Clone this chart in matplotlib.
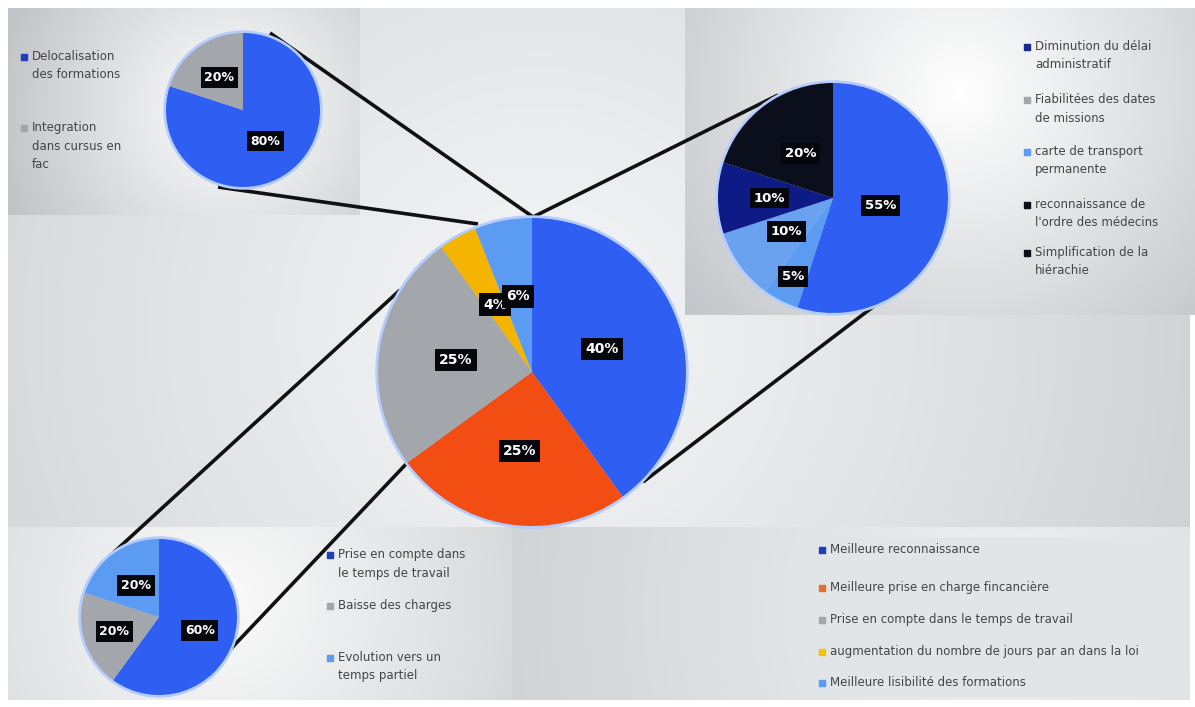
import numpy as np
import matplotlib.pyplot as plt
from matplotlib.patches import Circle

# ---- data -------------------------------------------------------------
main_vals = [40, 25, 25, 4, 6]
main_colors = ['#2f5ef2', '#f24d12', '#a3a6aa', '#f5b400', '#5b9cf2']
main_labels = ['Meilleure reconnaissance',
               'Meilleure prise en charge fincancière',
               'Prise en compte dans le temps de travail',
               'augmentation du nombre de jours par an dans la loi',
               'Meilleure lisibilité des formations']

tl_vals = [80, 20]
tl_colors = ['#2f5ef2', '#a3a6aa']
tl_labels = ['Delocalisation\ndes formations', 'Integration\ndans cursus en\nfac']

tr_vals = [55, 5, 10, 10, 20]
tr_colors = ['#2f5ef2', '#5b9cf2', '#6aa2f0', '#0e1a86', '#0b0f1c']
tr_labels = ['Diminution du délai\nadministratif',
             'Fiabilitées des dates\nde missions',
             'carte de transport\npermanente',
             'reconnaissance de\nl\'ordre des médecins',
             'Simplification de la\nhiérachie']
tr_legend_colors = ['#1a2a8a', '#a3a6aa', '#5b9cf2', '#0b0f1c', '#0b0f1c']

bl_vals = [60, 20, 20]
bl_colors = ['#2f5ef2', '#a3a6aa', '#5b9cf2']
bl_labels = ['Prise en compte dans\nle temps de travail',
             'Baisse des charges',
             'Evolution vers un\ntemps partiel']

# ---- figure -------------------------------------------------------------
W, H = 1195, 707
fig = plt.figure(figsize=(W / 100, H / 100), dpi=100)
ax = fig.add_axes([0, 0, 1, 1])


def radial(x0, x1, y0, y1, cx, cy, c_in, c_out, scale):
    xs = np.linspace(x0, x1, 120)
    ys = np.linspace(y0, y1, 80)
    X, Y = np.meshgrid(xs, ys)
    d = np.clip(np.hypot(X - cx, Y - cy) / scale, 0, 1)
    a = np.array(plt.matplotlib.colors.to_rgb(c_in))
    b = np.array(plt.matplotlib.colors.to_rgb(c_out))
    img = a[None, None, :] * (1 - d[..., None]) + b[None, None, :] * d[..., None]
    ax.imshow(img, extent=(x0, x1, y1, y0), origin='upper', interpolation='bilinear',
              zorder=0, aspect='auto')


# background panels
radial(8, 1190, 8, 700, 540, 330, '#f6f7f8', '#cfd2d5', 700)
radial(8, 360, 8, 215, 230, 110, '#ffffff', '#bcbfc3', 260)
radial(685, 1195, 8, 315, 960, 90, '#ffffff', '#b8bcc0', 420)
radial(8, 512, 527, 700, 220, 600, '#fbfbfb', '#c9cccf', 420)
radial(512, 1190, 527, 700, 1000, 610, '#eef0f1', '#cfd3d6', 520)
ax.add_patch(plt.Rectangle((815, 538), 372, 158, color='#e2e5e7', zorder=0.5))

# connector lines
lines = [((270, 33), (533, 217)), ((218, 187), (478, 224)),
         ((533, 217), (778, 95)), ((643, 482), (882, 300)),
         ((400, 290), (100, 565)), ((408, 462), (225, 655))]
for (xa, ya), (xb, yb) in lines:
    ax.plot([xa, xb], [ya, yb], color='#111111', lw=2.6, zorder=1, solid_capstyle='butt')


def draw_pie(vals, colors, center, r, dists, fs):
    ax.add_patch(Circle(center, r + 2, color='#b5ccff', zorder=2))
    wedges, _ = ax.pie(vals, colors=colors, center=center, radius=r,
                       startangle=-90, counterclock=True,
                       wedgeprops=dict(linewidth=0, zorder=3))
    for w, v, d in zip(wedges, vals, dists):
        w.set_zorder(3)
        ang = np.deg2rad((w.theta1 + w.theta2) / 2)
        x = center[0] + d * r * np.cos(ang)
        y = center[1] + d * r * np.sin(ang)
        ax.text(x, y, f'{v}%', color='white', fontsize=fs, fontweight='bold',
                ha='center', va='center', zorder=5,
                bbox=dict(boxstyle='square,pad=0.3', fc='#05070d', ec='none'))


draw_pie(main_vals, main_colors, (532, 372), 154, [0.48, 0.52, 0.5, 0.5, 0.5], 10)
draw_pie(tl_vals, tl_colors, (243, 110), 77, [0.5, 0.52], 9)
draw_pie(tr_vals, tr_colors, (833, 198), 115, [0.42, 0.77, 0.5, 0.55, 0.48], 9.5)
draw_pie(bl_vals, bl_colors, (159, 617), 78, [0.55, 0.6, 0.5], 9)


def legend(x, ys, labels, colors, fs=8.5):
    for y, lab, c in zip(ys, labels, colors):
        ax.scatter([x], [y], marker='s', s=14, color=c, zorder=6)
        ax.text(x + 8, y - 7, lab, fontsize=fs, color='#444444', va='top', ha='left',
                linespacing=1.55, zorder=6)


legend(24, [57, 128], tl_labels, ['#1f3fbf', '#a3a6aa'])
legend(1027, [47, 100, 152, 205, 253], tr_labels, tr_legend_colors)
legend(330, [555, 606, 658], bl_labels, ['#1f3fbf', '#a3a6aa', '#5b9cf2'])
legend(822, [550, 588, 620, 652, 683], main_labels,
       ['#1f3fbf', '#e8702a', '#a3a6aa', '#f5c400', '#5b9cf2'])

ax.set_xlim(0, W)
ax.set_ylim(H, 0)
ax.set_aspect('auto')
ax.axis('off')

fig.savefig('out.png', dpi=100, facecolor='white')
